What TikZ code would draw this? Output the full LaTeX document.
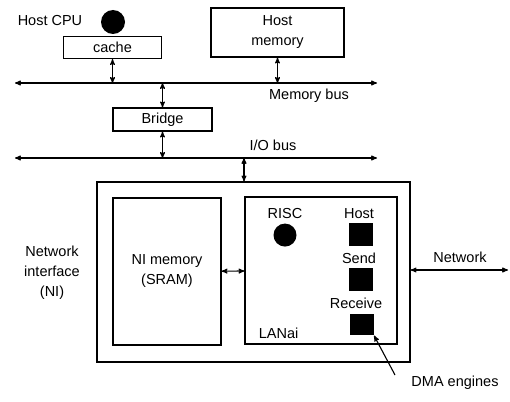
\documentclass[tikz,border=0pt]{standalone}
\usepackage{fontspec}
\setmainfont{Liberation Sans}
\usepackage{tikz}
\usetikzlibrary{arrows,positioning}

\begin{document}
\begin{tikzpicture}[x=1pt,y=-1pt,>=stealth',line width=1.1pt,
                    font=\fontsize{14.5}{20}\selectfont,
                    box/.style={draw,rectangle,inner sep=0pt},
                    chip/.style={fill=black,rectangle,inner sep=0pt,minimum width=24,minimum height=23},
                    cpu/.style={fill=black,circle,inner sep=0pt,minimum size=24}]
  \useasboundingbox (0,0) rectangle (510,401);
%  host side

  \node                (hostcpu) at (50,21)        {Host CPU};
  \node[cpu]           (cpu)     at (113,22)       {};
  \node[box,minimum width=98,minimum height=22]   (cache)   at (112.5,47.5)  {cache};
  \node[box,minimum width=133,minimum height=49,align=center] (hostmem) at (277.5,32.5) {Host\\memory};
  \node[box,minimum width=99,minimum height=23]   (bridge)  at (162.5,119.5) {Bridge};

  \coordinate (mbl) at (15,83);
  \coordinate (mbr) at (377,83);
  \coordinate (iol) at (15,158);
  \coordinate (ior) at (377,158);
  \draw[<->] (mbl) -- (mbr);
  \draw[<->] (iol) -- (ior);
  \node                (membus)  at (309,96)       {Memory bus};
  \node                (iobus)   at (273,145)      {I/O bus};

  \draw[<->] (cache) -- (cache |- mbl);
  \draw[<->] (hostmem) -- (hostmem |- mbl);
  \draw[<->] (bridge |- mbl) -- (bridge);
  \draw[<->] (bridge) -- (bridge |- iol);

%  network interface card
  \node[box,minimum width=313,minimum height=180] (ni)      at (253.5,272)   {};
  \node[box,minimum width=108,minimum height=147,align=center] (nimem) at (167,271.5) {NI memory\\(SRAM)};
  \node[box,minimum width=152,minimum height=147] (lanai)   at (321,270.5)   {};
  \node[align=center]  (nilabel) at (52,273)       {Network\\interface\\(NI)};

  \coordinate (iotap) at (244,158);
  \draw[<->] (iotap) -- (iotap |- ni.north);
  \draw[<->] (nimem) -- (lanai);

  \node                (risc)    at (285,214)      {RISC};
  \node[cpu,minimum size=23] (risccpu) [below=0pt of risc] {};
  \node                (host)    at (359,214)      {Host};
  \node[chip]          (hostsq)  at (361,234.5)    {};
  \node                (send)    at (359,258)      {Send};
  \node[chip]          (sendsq)  at (361,279.5)    {};
  \node                (recv)    at (356,303)      {Receive};
  \node[chip,minimum height=21] (recvsq) at (361.5,324.5) {};
  \node[anchor=west]   (lanailbl) at (255,333)     {LANai};

  \coordinate (netend) at (508,270);
  \draw[<->] (netend -| ni.east) -- (netend);
  \node                (network) at (460,257)      {Network};

  \node                (dma)     at (455,383)      {DMA engines};
  \coordinate (dmatail) at (395,375);
  \draw[->] (dmatail) -- (recvsq.south east);

\end{tikzpicture}
\end{document}
